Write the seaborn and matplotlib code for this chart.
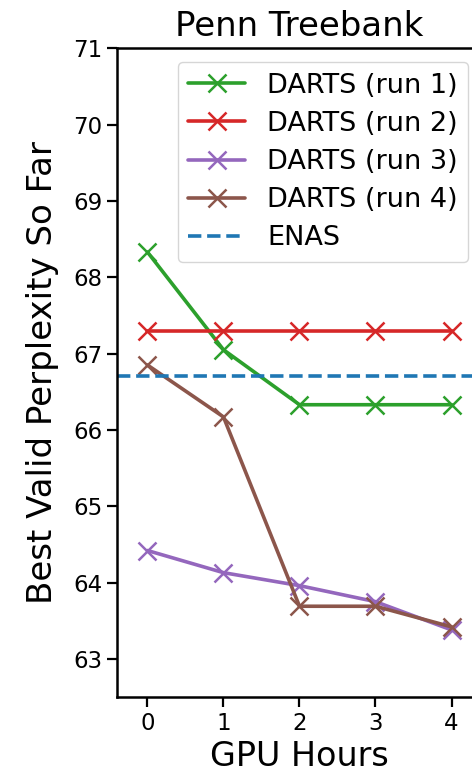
import numpy as np
import pandas as pd
import matplotlib
matplotlib.use('Agg')
import matplotlib.pyplot as plt
import seaborn as sns

# GPU hours on the x axis
hours = [0, 1, 2, 3, 4]

# best validation perplexity so far
run1 = [68.33, 67.05, 66.33, 66.33, 66.33]
run2 = [67.29, 67.29, 67.29, 67.29, 67.29]
run3 = [64.42, 64.13, 63.96, 63.75, 63.38]
run4 = [66.85, 66.17, 63.69, 63.69, 63.42]
enas = 66.70

labels = ["DARTS (run 1)", "DARTS (run 2)", "DARTS (run 3)", "DARTS (run 4)"]
colors = ["#2ca02c", "#d62728", "#9467bd", "#8c564b"]

sns.set_style("ticks", {"text.color": "black", "axes.labelcolor": "black",
                        "xtick.color": "black", "ytick.color": "black",
                        "axes.edgecolor": "black"})
plt.rcParams['font.family'] = ['DejaVu Sans']

fig = plt.figure(figsize=(4.72, 7.78), dpi=100)
ax = fig.add_axes([0.248, 0.104, 0.773, 0.834])

for vals, lab, c in zip([run1, run2, run3, run4], labels, colors):
    sns.lineplot(x=hours, y=vals, label=lab, color=c, marker="x",
                 markersize=13, markeredgewidth=1.8, markeredgecolor=c,
                 linewidth=2.6, ax=ax)

ax.axhline(enas, color="#1f77b4", linestyle="--", linewidth=2.6, label="ENAS")

ax.set_xlim(-0.4, 4.4)
ax.set_ylim(62.5, 71)
ax.set_xticks(hours)
ax.set_yticks(range(63, 72))
ax.tick_params(labelsize=16.5, width=1.6, length=7)
for s in ax.spines.values():
    s.set_linewidth(1.8)

ax.set_title("Penn Treebank", fontsize=24.5, pad=9)
ax.set_xlabel("GPU Hours", fontsize=24)
ax.set_ylabel("Best Valid Perplexity So Far", fontsize=24.5, labelpad=10)

handles, lab = ax.get_legend_handles_labels()
ax.legend(handles, lab, loc="upper right", fontsize=19.5, frameon=True,
          fancybox=True, edgecolor="#cccccc", handlelength=2.1,
          borderaxespad=0.5, labelspacing=0.45, borderpad=0.4,
          handletextpad=0.8)

fig.savefig("out.png", dpi=100)
